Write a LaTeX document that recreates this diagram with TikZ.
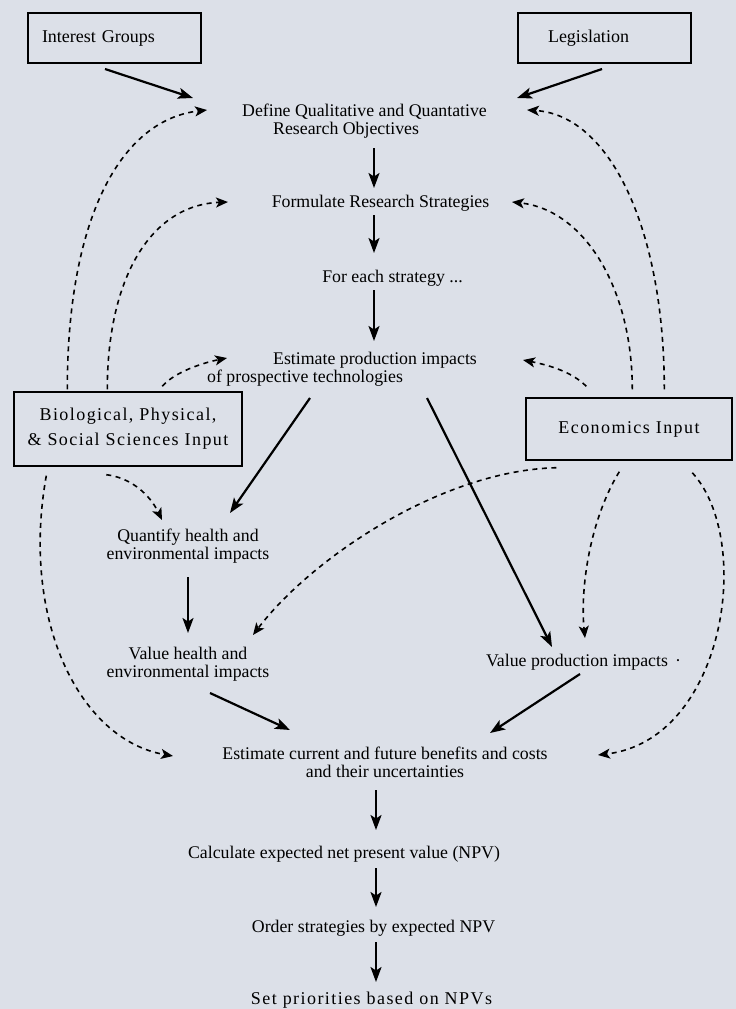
\documentclass[tikz,border=0pt]{standalone}
\usepackage{fontspec}
\setmainfont{Liberation Serif}
\newfontfamily\spacedfont[LetterSpace=8]{Liberation Serif}
\usetikzlibrary{arrows.meta,calc}
\definecolor{bgcol}{RGB}{220,224,232}
\begin{document}
\begin{tikzpicture}[x=1pt,y=-1pt,
  txt/.style={inner sep=0pt, font=\fontsize{17.8}{18}\selectfont},
  boxnode/.style={draw, line width=1.4pt, font=\fontsize{18}{18}\selectfont},
  solidarrow/.style={line width=2.2pt, -{Stealth[length=15pt,width=11pt,inset=3.5pt]}},
  dasharrow/.style={line width=1.6pt, dash pattern=on 5pt off 4.5pt, -{Stealth[length=12pt,width=10pt,inset=3pt]}},
]
\fill[bgcol] (0,0) rectangle (736,1009);
\useasboundingbox (0,0) rectangle (736,1009);

\node[boxnode, minimum width=173pt, minimum height=50pt, text width=145pt, inner xsep=14pt, align=left] (ig) at (114.5,38) {Interest Groups};
\node[boxnode, minimum width=173pt, minimum height=50pt, text width=113pt, inner xsep=30pt, align=left] (leg) at (604.5,38) {Legislation};
\node[txt, align=left] (def) at (364.5,121) {Define Qualitative and Quantative\\\hspace*{31pt}Research Objectives};
\node[txt] (form) at (380.5,203) {Formulate Research Strategies};
\node[txt] (each) at (392.5,278) {For each strategy ...};
\node[txt, align=left] (estp) at (342,369) {\hspace*{66pt}Estimate production impacts\\of prospective technologies};
\node[boxnode, minimum width=228pt, minimum height=74pt, align=center, font=\spacedfont\fontsize{18}{25}\selectfont] (bio) at (128,429) {Biological, Physical,\\\& Social Sciences Input};
\node[boxnode, minimum width=206pt, minimum height=62pt, font=\spacedfont\fontsize{18}{18}\selectfont] (econ) at (629,429) {Economics Input};
\node[txt, align=center] (quant) at (188,546) {Quantify health and\\environmental impacts};
\node[txt, align=center] (valh) at (188,664) {Value health and\\environmental impacts};
\node[txt] (valp) at (583.5,662) {Value production impacts\hspace{7pt}·};
\node[txt, align=center] (estc) at (385,762.5) {Estimate current and future benefits and costs\\and their uncertainties};
\node[txt] (calcnpv) at (344,854) {Calculate expected net present value (NPV)};
\node[txt] (order) at (373.5,928) {Order strategies by expected NPV};
\node[txt, font=\spacedfont\fontsize{18}{18}\selectfont] (setp) at (371.5,1000) {Set priorities based on NPVs};

% solid connectors
\draw[solidarrow] ($(ig.center)+(-9.5,31)$) -- ($(def.center)+(-171.5,-23)$);
\draw[solidarrow] ($(leg.center)+(-2.5,31)$) -- ($(def.center)+(152.5,-23)$);
\draw[solidarrow] ($(def.center)+(9.5,27)$) -- ($(form.center)+(-6.5,-15)$);
\draw[solidarrow] ($(form.center)+(-6.5,12)$) -- ($(each.center)+(-18.5,-25)$);
\draw[solidarrow] ($(each.center)+(-18.5,12)$) -- ($(estp.center)+(32,-28)$);
\draw[solidarrow] ($(estp.center)+(-32,29)$) -- ($(quant.center)+(42,-33)$);
\draw[solidarrow] ($(estp.center)+(85,29)$) -- ($(valp.center)+(-31.5,-15)$);
\draw[solidarrow] ($(quant.center)+(0,31)$) -- ($(valh.center)+(0,-31)$);
\draw[solidarrow] ($(valh.center)+(22,29)$) -- ($(estc.center)+(-95,-32.5)$);
\draw[solidarrow] ($(valp.center)+(-3.5,12)$) -- ($(estc.center)+(105,-29.5)$);
\draw[solidarrow] ($(estc.center)+(-9,27.5)$) -- ($(calcnpv.center)+(32,-24)$);
\draw[solidarrow] ($(calcnpv.center)+(32,14)$) -- ($(order.center)+(2.5,-21)$);
\draw[solidarrow] ($(order.center)+(2.5,14)$) -- ($(setp.center)+(4.5,-18)$);

% dashed connectors
\draw[dasharrow] ($(bio.north west)+(54,-2)$) .. controls +(0,-170) and +(-87,10) .. ($(def.center)+(-157.5,-11)$);
\draw[dasharrow] ($(bio.north west)+(94,-2)$) .. controls +(0,-110) and +(-78,3) .. ($(form.center)+(-152.5,-1)$);
\draw[dasharrow] ($(bio.north west)+(149,-5)$) .. controls +(12,-14) and +(-25,5) .. ($(estp.center)+(-115,-11)$);
\draw[dasharrow] ($(bio.south west)+(33,9)$) .. controls +(-26,145) and +(-93,-16) .. ($(estc.center)+(-212,-6.5)$);
\draw[dasharrow] ($(bio.south west)+(93,8)$) .. controls +(25,3) and +(-12,-25) .. ($(quant.center)+(-26,-26)$);
\draw[dasharrow] ($(econ.north west)+(139,-8)$) .. controls +(0,-160) and +(83,5) .. ($(def.center)+(162.5,-11)$);
\draw[dasharrow] ($(econ.north west)+(107,-8)$) .. controls +(0,-100) and +(73,8) .. ($(form.center)+(131.5,-1)$);
\draw[dasharrow] ($(econ.north west)+(61,-11)$) .. controls +(-15,-15) and +(25,5) .. ($(estp.center)+(181,-9)$);
\draw[dasharrow] ($(econ.south west)+(31,7)$) .. controls +(-117,3) and +(57,-75) .. ($(valh.center)+(65,-29)$);
\draw[dasharrow] ($(econ.south west)+(94,11)$) .. controls +(-30,49) and +(-5,-48) .. ($(valp.center)+(1.5,-24)$);
\draw[dasharrow] ($(econ.south west)+(167,12)$) .. controls +(62,68) and +(127,-15) .. ($(estc.center)+(213,-7.5)$);
\end{tikzpicture}
\end{document}
